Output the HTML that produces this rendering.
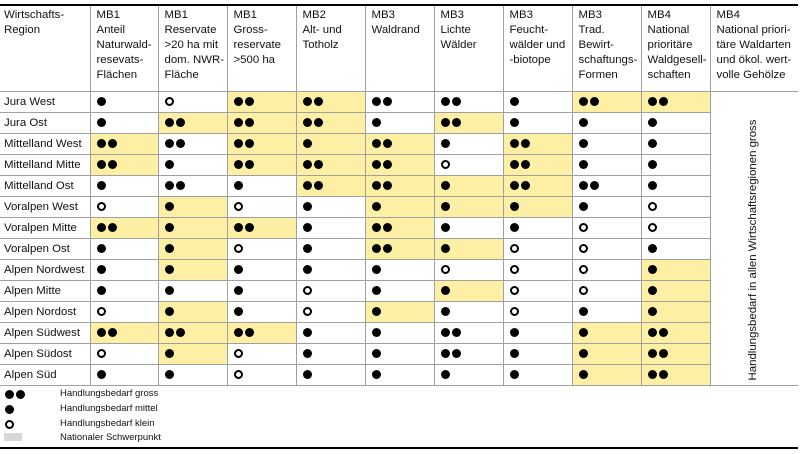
<!DOCTYPE html><html><head><meta charset="utf-8"><style>
body{margin:0;background:#fff;width:800px;height:454px;overflow:hidden;font-family:"Liberation Sans",sans-serif;font-size:11.4px;color:#111}
#top{position:absolute;left:0;top:4px;width:798px;height:2px;background:#000}
#bot{position:absolute;left:0;top:447px;width:798px;height:2px;background:#000}
table{position:absolute;left:0;top:6px;border-collapse:collapse;table-layout:fixed;width:798px}
td{border:1px solid #a0a0a0;padding:0 0 0 6px;height:20px;vertical-align:middle;white-space:nowrap;line-height:15px}
tr td:first-child{border-left:none;padding-left:4px}
tr td:last-child{border-right:none}
thead td{height:83px;vertical-align:top;padding-top:2px;border-top:none}
.y{background:#fdf0a4}
b{display:inline-block;vertical-align:middle;position:relative;width:9px;height:9px}
b.s{border-radius:50%;background:#000}
b.o{border-radius:50%;box-sizing:border-box;border:2.5px solid #000;background:#fff}
b.d{width:20px}
b.d:before,b.d:after{content:"";position:absolute;top:0;width:9px;height:9px;border-radius:50%;background:#000}
b.d:before{left:0}b.d:after{left:11px}
.rot{position:absolute;left:746px;top:114px;width:14px;height:271px}
.rot span{position:absolute;left:50%;top:50%;transform:translate(-50%,-50%) rotate(-90deg);white-space:nowrap;font-size:11.4px}
.lg{position:absolute;font-size:9.5px;left:60px}
.lk{position:absolute;left:5px}
</style></head><body>
<div id="top"></div>
<table>
<colgroup><col style="width:90px"><col style="width:68px"><col style="width:69px"><col style="width:69px"><col style="width:69px"><col style="width:69px"><col style="width:69px"><col style="width:69px"><col style="width:69px"><col style="width:69px"><col style="width:88px"></colgroup>
<thead><tr><td>Wirtschafts-<br>Region</td><td>MB1<br>Anteil<br>Naturwald-<br>resevats-<br>Flächen</td><td>MB1<br>Reservate<br>&gt;20 ha mit<br>dom. NWR-<br>Fläche</td><td>MB1<br>Gross-<br>reservate<br>&gt;500 ha</td><td>MB2<br>Alt- und<br>Totholz</td><td>MB3<br>Waldrand</td><td>MB3<br>Lichte<br>Wälder</td><td>MB3<br>Feucht-<br>wälder und<br>-biotope</td><td>MB3<br>Trad.<br>Bewirt-<br>schaftungs-<br>Formen</td><td>MB4<br>National<br>prioritäre<br>Waldgesell-<br>schaften</td><td>MB4<br>National priori-<br>täre Waldarten<br>und ökol. wert-<br>volle Gehölze</td></tr></thead>
<tbody>
<tr><td>Jura West</td><td><b class=s></b></td><td><b class=o></b></td><td class=y><b class=d></b></td><td class=y><b class=d></b></td><td><b class=d></b></td><td><b class=d></b></td><td><b class=s></b></td><td class=y><b class=d></b></td><td class=y><b class=d></b></td><td rowspan="14" style="border-bottom:1px solid #a0a0a0"></td></tr>
<tr><td>Jura Ost</td><td><b class=s></b></td><td class=y><b class=d></b></td><td class=y><b class=d></b></td><td class=y><b class=d></b></td><td><b class=s></b></td><td class=y><b class=d></b></td><td><b class=s></b></td><td><b class=s></b></td><td><b class=s></b></td></tr>
<tr><td>Mittelland West</td><td class=y><b class=d></b></td><td><b class=d></b></td><td class=y><b class=d></b></td><td class=y><b class=s></b></td><td class=y><b class=d></b></td><td><b class=s></b></td><td class=y><b class=d></b></td><td><b class=s></b></td><td><b class=s></b></td></tr>
<tr><td>Mittelland Mitte</td><td class=y><b class=d></b></td><td><b class=s></b></td><td class=y><b class=d></b></td><td class=y><b class=d></b></td><td class=y><b class=d></b></td><td><b class=o></b></td><td class=y><b class=d></b></td><td><b class=s></b></td><td><b class=s></b></td></tr>
<tr><td>Mittelland Ost</td><td><b class=s></b></td><td><b class=d></b></td><td><b class=s></b></td><td class=y><b class=d></b></td><td class=y><b class=d></b></td><td class=y><b class=s></b></td><td class=y><b class=d></b></td><td><b class=d></b></td><td><b class=s></b></td></tr>
<tr><td>Voralpen West</td><td><b class=o></b></td><td class=y><b class=s></b></td><td><b class=o></b></td><td><b class=s></b></td><td class=y><b class=s></b></td><td class=y><b class=s></b></td><td class=y><b class=s></b></td><td><b class=s></b></td><td><b class=o></b></td></tr>
<tr><td>Voralpen Mitte</td><td class=y><b class=d></b></td><td class=y><b class=s></b></td><td class=y><b class=d></b></td><td><b class=s></b></td><td class=y><b class=d></b></td><td><b class=s></b></td><td><b class=s></b></td><td><b class=o></b></td><td><b class=o></b></td></tr>
<tr><td>Voralpen Ost</td><td><b class=s></b></td><td class=y><b class=s></b></td><td><b class=o></b></td><td><b class=s></b></td><td class=y><b class=d></b></td><td class=y><b class=s></b></td><td><b class=o></b></td><td><b class=o></b></td><td><b class=s></b></td></tr>
<tr><td>Alpen Nordwest</td><td><b class=s></b></td><td class=y><b class=s></b></td><td><b class=s></b></td><td><b class=s></b></td><td><b class=s></b></td><td><b class=o></b></td><td><b class=o></b></td><td><b class=o></b></td><td class=y><b class=s></b></td></tr>
<tr><td>Alpen Mitte</td><td><b class=s></b></td><td><b class=s></b></td><td><b class=s></b></td><td><b class=o></b></td><td><b class=s></b></td><td class=y><b class=s></b></td><td><b class=o></b></td><td><b class=o></b></td><td class=y><b class=s></b></td></tr>
<tr><td>Alpen Nordost</td><td><b class=o></b></td><td class=y><b class=s></b></td><td><b class=s></b></td><td><b class=o></b></td><td class=y><b class=s></b></td><td><b class=s></b></td><td><b class=o></b></td><td><b class=s></b></td><td class=y><b class=s></b></td></tr>
<tr><td>Alpen Südwest</td><td class=y><b class=d></b></td><td class=y><b class=d></b></td><td class=y><b class=d></b></td><td><b class=s></b></td><td><b class=s></b></td><td><b class=d></b></td><td><b class=s></b></td><td class=y><b class=s></b></td><td class=y><b class=d></b></td></tr>
<tr><td>Alpen Südost</td><td><b class=o></b></td><td class=y><b class=s></b></td><td><b class=o></b></td><td><b class=s></b></td><td><b class=s></b></td><td><b class=d></b></td><td><b class=s></b></td><td class=y><b class=s></b></td><td class=y><b class=d></b></td></tr>
<tr><td>Alpen Süd</td><td><b class=s></b></td><td><b class=s></b></td><td><b class=o></b></td><td><b class=s></b></td><td><b class=s></b></td><td><b class=s></b></td><td><b class=s></b></td><td class=y><b class=s></b></td><td class=y><b class=d></b></td></tr>
</tbody></table>
<div class="rot"><span>Handlungsbedarf in allen Wirtschaftsregionen gross</span></div>
<b class="d lk" style="top:390px;position:absolute;width:20px"></b><div class="lg" style="top:388px">Handlungsbedarf gross</div>
<b class="s lk" style="top:405px;position:absolute"></b><div class="lg" style="top:403px">Handlungsbedarf mittel</div>
<b class="o lk" style="top:420px;position:absolute"></b><div class="lg" style="top:418px">Handlungsbedarf klein</div>
<div style="position:absolute;left:4px;top:433px;width:18px;height:8px;background:#d8d8d8"></div><div class="lg" style="top:432px">Nationaler Schwerpunkt</div>
<div id="bot"></div>
</body></html>
